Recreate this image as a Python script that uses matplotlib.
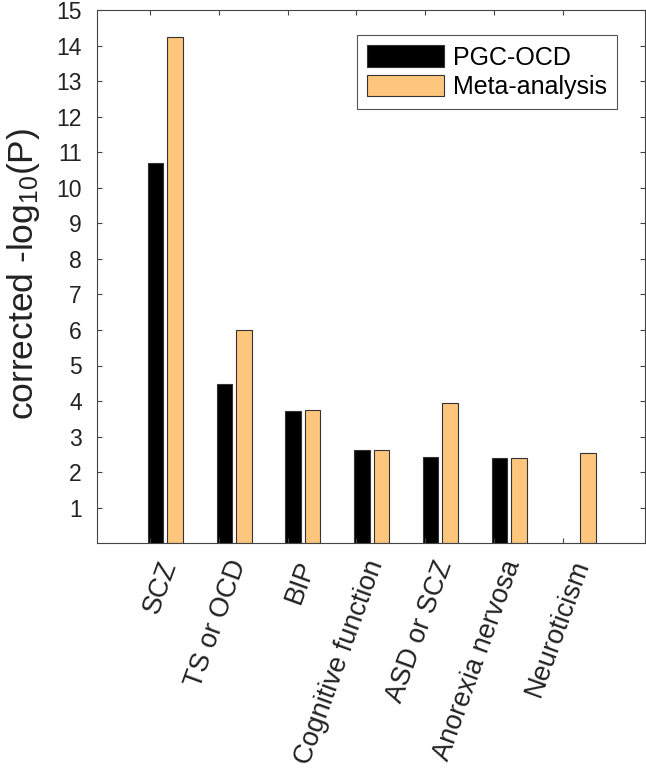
import numpy as np
import matplotlib
matplotlib.use('Agg')
import matplotlib.pyplot as plt
import matplotlib.transforms as mtransforms

categories = ['SCZ', 'TS or OCD', 'BIP', 'Cognitive function', 'ASD or SCZ',
              'Anorexia nervosa', 'Neuroticism']
pgc_ocd = [10.69, 4.48, 3.72, 2.62, 2.43, 2.40, np.nan]
meta_analysis = [14.25, 6.00, 3.75, 2.63, 3.95, 2.40, 2.53]
series_names = ['PGC-OCD', 'Meta-analysis']
yticks = list(range(1, 16))

plt.rcParams['font.family'] = ['Liberation Sans', 'DejaVu Sans']
plt.rcParams['mathtext.fontset'] = 'custom'
plt.rcParams['mathtext.rm'] = 'Liberation Sans'
plt.rcParams['mathtext.it'] = 'Liberation Sans'

W, H = 646, 772
fig = plt.figure(figsize=(W / 100, H / 100), dpi=100)
left, right, top, bottom = 96.7, 645.0, 10.0, 543.25
ax = fig.add_axes([left / W, 1 - bottom / H, (right - left) / W, (bottom - top) / H])

x = np.arange(1, len(categories) + 1)
w = 0.225
ax.bar(x + 0.08, pgc_ocd, w, color='black', edgecolor='#333333', linewidth=0.8,
       label=series_names[0])
ax.bar(x + 0.365, meta_analysis, w, color='#FEC67C', edgecolor='#333333', linewidth=0.8,
       label=series_names[1])

ax.set_xlim(0.225, 8.197)
ax.set_ylim(0, 15)
ax.set_yticks(yticks)
ax.set_xticks(x)

ax.tick_params(direction='in', length=3.6, width=0.8, color='#444444',
               top=True, right=True)
ax.tick_params(axis='y', pad=10.8, labelsize=16.5, labelcolor='#222222')
ax.tick_params(axis='x', pad=0)
for s in ax.spines.values():
    s.set_color('#444444')
    s.set_linewidth(0.8)

ax.set_xticklabels(categories, rotation=70, ha='right', va='center',
                   rotation_mode='anchor', fontsize=19.5, color='#222222')
offset = mtransforms.ScaledTranslation(0.20, -0.18, fig.dpi_scale_trans)
for lbl in ax.get_xticklabels():
    lbl.set_transform(lbl.get_transform() + offset)

ax.set_ylabel('corrected -log$_{10}$(P)', fontsize=25.5, color='#222222')
ax.yaxis.set_label_coords(-0.10, 0.505)

leg = ax.legend(loc='upper right', bbox_to_anchor=(0.9495, 0.953), borderaxespad=0,
                fontsize=18, handlelength=3.08, handleheight=0.96, handletextpad=0.39,
                borderpad=0.4, labelspacing=0.2, fancybox=False, framealpha=1,
                edgecolor='#555555')
leg.get_frame().set_linewidth(0.8)

fig.savefig('out.png', dpi=100)
